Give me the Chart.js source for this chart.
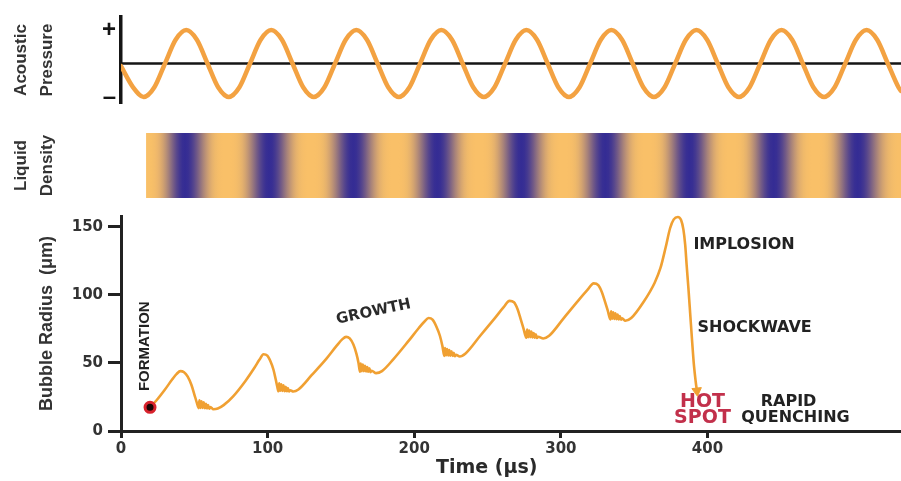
<!DOCTYPE html>
<html><head><meta charset="utf-8">
<script src="https://cdn.jsdelivr.net/npm/chart.js@4.4.1/dist/chart.umd.min.js"></script>
<style>
html,body{margin:0;padding:0;background:#fff;}
#wrap{position:relative;width:901px;height:481px;overflow:hidden;background:#fff;}
canvas{position:absolute;left:0;top:0;}
</style></head>
<body><div id="wrap">
<canvas id="cDensity" width="901" height="481"></canvas>
<canvas id="cPressure" width="901" height="481"></canvas>
<canvas id="cBubble" width="901" height="481"></canvas>
</div>
<script>
// ---------------- DATA ----------------
const timeMin = 0, timeMax = 532;            // µs
const timeTicks = [0, 100, 200, 300, 400];
const radiusTicks = [0, 50, 100, 150];
const radiusMax = 158;

// acoustic pressure (relative, -1..1) read at eighth-period samples
const pressureT = [0, 8.25, 15.5, 22.75, 30, 37.25, 44.5, 51.75, 59, 66.25, 73.5, 80.75, 88, 95.25, 102.5, 109.75,
  117, 124.25, 131.5, 138.75, 146, 153.25, 160.5, 167.75, 175, 182.25, 189.5, 196.75, 204, 211.25, 218.5, 225.75,
  233, 240.25, 247.5, 254.75, 262, 269.25, 276.5, 283.75, 291, 298.25, 305.5, 312.75, 320, 327.25, 334.5, 341.75,
  349, 356.25, 363.5, 370.75, 378, 385.25, 392.5, 399.75, 407, 414.25, 421.5, 428.75, 436, 443.25, 450.5, 457.75,
  465, 472.25, 479.5, 486.75, 494, 501.25, 508.5, 515.75, 523, 530.25, 532];
const pressureV = [-0.08, -0.71,
  -1, -0.71, 0, 0.71, 1, 0.71, 0, -0.71,
  -1, -0.71, 0, 0.71, 1, 0.71, 0, -0.71,
  -1, -0.71, 0, 0.71, 1, 0.71, 0, -0.71,
  -1, -0.71, 0, 0.71, 1, 0.71, 0, -0.71,
  -1, -0.71, 0, 0.71, 1, 0.71, 0, -0.71,
  -1, -0.71, 0, 0.71, 1, 0.71, 0, -0.71,
  -1, -0.71, 0, 0.71, 1, 0.71, 0, -0.71,
  -1, -0.71, 0, 0.71, 1, 0.71, 0, -0.71,
  -1, -0.71, 0, 0.71, 1, 0.71, 0, -0.71,
  -0.82];
const pressureTicks = [-1, 1];
const pressureTickLabels = ['–', '+'];

// liquid density (0 = rarefied / orange, 1 = compressed / blue)
const densityT = [17.1, 43.7, 72.4, 101.0, 129.7, 158.4, 187.0, 215.7, 244.4, 273.0, 301.7, 330.4, 359.0, 387.7, 416.4, 445.1, 473.7, 502.4, 532];
const densityV = [0.02, 1, 0, 1, 0, 1, 0, 1, 0, 1, 0, 1, 0, 1, 0, 1, 0, 1, 0.05];

// bubble radius (µm) vs time (µs)
const bubbleRadius = [
  [19.8,17.4],[24.4,22.8],[30,30.5],[35,38],[38,42],[40.5,44],[43,43.2],[45.5,40],[48,34],[50,27],[51.8,20.5],[53,16.8],
  [53.5,22.5],[54.2,17],[54.9,21.8],[55.7,17],[56.4,21],[57.2,16.8],[57.9,20],[58.7,16.6],[59.4,19],[60.2,16.4],[61,17.6],
  [63,16],[66,16.5],[70,19],[76.5,25.5],[85,37],[91,46.5],[94.5,52.5],[97.2,56.4],[99.8,55.4],[102,51],[104,45],[105.5,38],[106.6,32.5],[107.4,29.2],
  [107.9,35],[108.6,29.6],[109.3,34.3],[110.1,29.5],[110.8,33.5],[111.6,29.3],[112.3,32.5],[113.1,29.2],[113.8,31.5],[114.6,29],[115.4,30],
  [117.5,29],[121,30.5],[130,41],[140,53],[147,62.5],[151,67.5],[153.5,69.2],[156,68],[158.5,63.5],[160.5,57],[162,50],[163,43.6],
  [163.5,49.5],[164.2,44],[164.9,48.8],[165.7,44],[166.4,48],[167.2,43.7],[167.9,47],[168.7,43.5],[169.4,46],[170.2,43.2],[171,44.3],
  [174,42.5],[178,44],[186,53],[196,66],[203,75.5],[207,80.5],[209.8,83],[212.5,81.8],[215,77],[217.5,70],[219.3,62],[220.5,55.2],
  [221,61],[221.7,55.6],[222.4,60.3],[223.2,55.5],[223.9,59.5],[224.7,55.3],[225.4,58.5],[226.2,55.2],[226.9,57.5],[227.7,55],[228.5,56],
  [231,54.8],[235,57],[245,70],[255,83],[261,91],[265,95.6],[268,94.6],[270.5,89.5],[272.4,83],[274.5,75.5],[276.5,68.5],
  [277,74.5],[277.7,69],[278.4,73.8],[279.2,69],[279.9,73],[280.7,68.8],[281.4,72],[282.2,68.6],[282.9,71],[283.7,68.4],[284.5,69.3],
  [288,68],[292,70],[302,83],[312,96],[318,103.5],[322.4,108.5],[325.5,107.2],[328,102],[330,95.5],[332,88.5],[333.8,82],
  [334.3,88],[335,82.5],[335.7,87.3],[336.5,82.4],[337.2,86.5],[338,82.2],[338.7,85.5],[339.5,82],[340.2,84.5],[341,81.8],[341.8,82.8],
  [344,81],[348,83],[356.5,95],[364,109],[368,120],[371.5,135],[374.5,149],[377,155.5],[379.8,157.3],[382,155],[383.6,148],
  [384.8,137],[385.8,122],[387,105],[388.3,85],[389.6,65],[390.8,48],[392,36],[392.8,29.5]
];
const formationT = [19.8];
const formationR = [17.4];

// text annotations (time, radius anchor)
const annotationLabels = [
  {text:'FORMATION', t:16.4, r:62.3, angle:-90, size:15, family:'"Liberation Sans", Arial, sans-serif', color:'#222', align:'center'},
  {text:'GROWTH', t:172.3, r:87.5, angle:-12, size:15, family:'"DejaVu Sans", sans-serif', color:'#2a2a2a', align:'center'},
  {text:'IMPLOSION', t:390.4, r:136.8, angle:0, size:16, family:'"DejaVu Sans", sans-serif', color:'#222', align:'left'},
  {text:'SHOCKWAVE', t:393.2, r:75.7, angle:0, size:16, family:'"DejaVu Sans", sans-serif', color:'#222', align:'left'},
  {text:'HOT', t:396.6, r:21.3, angle:0, size:19, family:'"DejaVu Sans", sans-serif', color:'#C2304B', align:'center'},
  {text:'SPOT', t:396.6, r:9.4, angle:0, size:19, family:'"DejaVu Sans", sans-serif', color:'#C2304B', align:'center'},
  {text:'RAPID', t:455.3, r:21.3, angle:0, size:16, family:'"DejaVu Sans", sans-serif', color:'#222', align:'center'},
  {text:'QUENCHING', t:460, r:9.4, angle:0, size:16, family:'"DejaVu Sans", sans-serif', color:'#222', align:'center'},
  {text:'Time (μs)', t:249.5, r:-27.2, angle:0, size:19, family:'"DejaVu Sans", sans-serif', color:'#2a2a2a', align:'center'}
];

// ---------------- STYLE HELPERS ----------------
const W = 901, H = 481, AXIS_W = 121;
const ORANGE_LIGHT = [249, 192, 104];
const BLUE_DARK = [52, 44, 148];
const tickFont = {family: '"DejaVu Sans", sans-serif', size: 15, weight: 'bold'};
const titleFontMulti = {family: '"Liberation Sans", Arial, sans-serif', size: 17, weight: 'bold', lineHeight: 1.53};

function densityColor(v) {
  const w = Math.pow(Math.max(0, Math.min(1, v)), 1.8);
  const c = ORANGE_LIGHT.map((o, i) => Math.round(o + (BLUE_DARK[i] - o) * w));
  return `rgb(${c[0]},${c[1]},${c[2]})`;
}
function densityGradient(context) {
  const chart = context.chart;
  const {ctx, chartArea, scales} = chart;
  if (!chartArea || !scales.x) return densityColor(0);
  const xs = scales.x;
  const x0 = xs.getPixelForValue(densityT[0]);
  const x1 = xs.getPixelForValue(densityT[densityT.length - 1]);
  const g = ctx.createLinearGradient(x0, 0, x1, 0);
  const N = 14;
  for (let i = 0; i < densityT.length - 1; i++) {
    for (let s = 0; s < N; s++) {
      const f = s / N;
      const t = densityT[i] + (densityT[i + 1] - densityT[i]) * f;
      const e = (1 - Math.cos(Math.PI * f)) / 2;
      const v = densityV[i] + (densityV[i + 1] - densityV[i]) * e;
      const p = (xs.getPixelForValue(t) - x0) / (x1 - x0);
      g.addColorStop(Math.max(0, Math.min(1, p)), densityColor(v));
    }
  }
  g.addColorStop(1, densityColor(densityV[densityV.length - 1]));
  return g;
}
function fixWidth(s) { s.width = AXIS_W; s.paddingTop = 0; s.paddingBottom = 0; }

const baseOpts = {
  responsive: false, animation: false, devicePixelRatio: 1,
  plugins: {legend: {display: false}, tooltip: {enabled: false}},
  events: []
};

// ---------------- DENSITY STRIP ----------------
new Chart(document.getElementById('cDensity'), {
  type: 'line',
  data: {datasets: [{
    data: [{x: densityT[0], y: 1}, {x: densityT[densityT.length - 1], y: 1}],
    borderWidth: 0, borderColor: 'rgba(0,0,0,0)', pointRadius: 0,
    fill: 'origin', backgroundColor: densityGradient
  }]},
  options: Object.assign({}, baseOpts, {
    layout: {autoPadding: false, padding: {left: 0, right: 0, top: 133, bottom: H - 198}},
    scales: {
      x: {type: 'linear', min: timeMin, max: timeMax, display: false},
      y: {min: 0, max: 1,
        afterFit: fixWidth,
        grid: {display: false, drawTicks: false}, border: {display: false},
        ticks: {display: false},
        title: {display: true, text: ['Liquid', 'Density'], color: '#333', font: titleFontMulti, padding: {top: 8, bottom: 0}}
      }
    }
  })
});

// ---------------- ACOUSTIC PRESSURE ----------------
new Chart(document.getElementById('cPressure'), {
  type: 'line',
  data: {datasets: [
    {data: pressureT.map((t, i) => ({x: t, y: pressureV[i]})), borderColor: '#F3A242', borderWidth: 4.5,
     pointRadius: 0, cubicInterpolationMode: 'monotone', fill: false, borderCapStyle: 'round'},
    {data: [{x: timeMin, y: 0}, {x: timeMax, y: 0}], borderColor: '#151515', borderWidth: 2.5, pointRadius: 0, fill: false}
  ]},
  options: Object.assign({}, baseOpts, {
    layout: {autoPadding: false, padding: {left: 0, right: 0, top: 17, bottom: H - 103}},
    scales: {
      x: {type: 'linear', min: timeMin, max: timeMax, display: false},
      y: {min: -1.18, max: 1.39,
        afterFit: fixWidth,
        afterBuildTicks(s) { s.ticks = pressureTicks.map(v => ({value: v})); },
        grid: {display: false, drawTicks: false},
        border: {display: true, color: '#151515', width: 3.5},
        ticks: {padding: 5, color: '#151515', font: {family: '"Liberation Sans", Arial, sans-serif', size: 24, weight: 'bold'},
          callback: (v) => pressureTickLabels[pressureTicks.indexOf(v)]},
        title: {display: true, text: ['Acoustic', 'Pressure'], color: '#333', font: titleFontMulti, padding: {top: 8, bottom: 0}}
      }
    }
  })
});

// ---------------- BUBBLE RADIUS ----------------
const labelPlugin = {
  id: 'labels',
  afterDraw(chart) {
    const {ctx, scales: {x, y}} = chart;
    annotationLabels.forEach(a => {
      ctx.save();
      ctx.translate(x.getPixelForValue(a.t), y.getPixelForValue(a.r));
      ctx.rotate(a.angle * Math.PI / 180);
      ctx.font = `bold ${a.size}px ${a.family}`;
      ctx.fillStyle = a.color;
      ctx.textAlign = a.align;
      ctx.textBaseline = 'middle';
      ctx.fillText(a.text, 0, 0);
      ctx.restore();
    });
  }
};

new Chart(document.getElementById('cBubble'), {
  type: 'line',
  data: {datasets: [
    {data: formationT.map((t, i) => ({x: t, y: formationR[i]})), showLine: false,
     pointRadius: 5, pointBackgroundColor: '#1c0506', pointBorderColor: '#D8222C', pointBorderWidth: 3, pointHoverRadius: 5},
    {data: bubbleRadius.map(p => ({x: p[0], y: p[1]})), borderColor: '#F0A032', borderWidth: 2.6,
     cubicInterpolationMode: 'monotone', fill: false,
     pointRadius: (c) => c.dataIndex === bubbleRadius.length - 1 ? 5.5 : 0,
     pointHoverRadius: 0, pointStyle: 'triangle', rotation: 174,
     pointBackgroundColor: '#F0A032', pointBorderColor: '#F0A032', pointBorderWidth: 1, clip: false}
  ]},
  options: Object.assign({}, baseOpts, {
    layout: {autoPadding: false, padding: {left: 0, right: 0, top: 216, bottom: 0}},
    scales: {
      x: {type: 'linear', min: timeMin, max: timeMax,
        afterFit(s) { s.height = H - 431; s.paddingLeft = 0; s.paddingRight = 0; },
        afterBuildTicks(s) { s.ticks = timeTicks.map(v => ({value: v})); },
        grid: {display: true, drawOnChartArea: false, drawTicks: true, tickLength: 7, tickWidth: 3, tickColor: '#222'},
        border: {display: true, color: '#222', width: 3},
        ticks: {padding: 2, color: '#333', font: tickFont, maxRotation: 0, autoSkip: false}
      },
      y: {min: 0, max: radiusMax,
        afterFit: fixWidth,
        afterBuildTicks(s) { s.ticks = radiusTicks.map(v => ({value: v})); },
        grid: {display: true, drawOnChartArea: false, drawTicks: true, tickLength: 13, tickWidth: 3, tickColor: '#222'},
        border: {display: true, color: '#222', width: 3},
        ticks: {padding: 5, color: '#333', font: tickFont, autoSkip: false},
        title: {display: true, text: 'Bubble Radius  (μm)', color: '#333',
          font: {family: '"Liberation Sans", Arial, sans-serif', size: 18, weight: 'bold', lineHeight: 1.2},
          padding: {top: 36, bottom: 0}}
      }
    }
  }),
  plugins: [labelPlugin]
});
</script>
</body></html>
